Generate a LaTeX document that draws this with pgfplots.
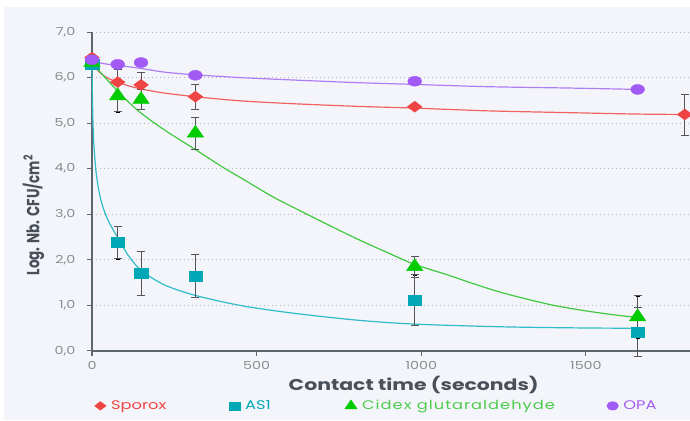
\documentclass[border=0pt]{standalone}
\usepackage{fontspec}
\setmainfont{Poppins}[FakeStretch=1.3]
\newfontfamily\plainpop{Poppins}
\usepackage{pgfplots}
\usepackage{pgfplotstable}
\pgfplotsset{compat=1.18}
\definecolor{bgc}{HTML}{F4F5FA}
\definecolor{sporox}{HTML}{EF4444}
\definecolor{sporoxl}{HTML}{F06262}
\definecolor{asone}{HTML}{00A8B5}
\definecolor{asonel}{HTML}{30BCC8}
\definecolor{cidex}{HTML}{00CC00}
\definecolor{cidexl}{HTML}{40C840}
\definecolor{cidext}{HTML}{4CCB4C}
\definecolor{opa}{HTML}{A25AF5}
\definecolor{opal}{HTML}{AC7EF2}
\definecolor{axisgray}{HTML}{5E6670}
\definecolor{tickgray}{HTML}{8A8C90}
\definecolor{labgray}{HTML}{4A505A}
\definecolor{errgray}{HTML}{555555}
\definecolor{gridgray}{HTML}{B4B6BA}

\pgfplotstableread{
t y e
0 6.44 0
78 5.90 0.28
149 5.84 0.27
314 5.58 0.27
980 5.36 0
1800 5.19 0.45
}\sporoxdata
\pgfplotstableread{
t y e
0 6.30 0
78 2.38 0.36
149 1.70 0.48
314 1.65 0.47
980 1.12 0.55
1657 0.42 0.54
}\asonedata
\pgfplotstableread{
t y e
0 6.33 0
78 5.60 0.35
149 5.52 0.22
314 4.78 0.35
980 1.85 0.23
1657 0.75 0.46
}\cidexdata
\pgfplotstableread{
t y
0 6.39
78 6.29
149 6.33
314 6.05
980 5.92
1657 5.74
}\opadata

\pgfplotsset{
  errb/.style={only marks, mark=none, forget plot,
    error bars/.cd, y dir=both, y explicit,
    error bar style={draw=errgray, line width=0.9pt}},
  capb/.style={only marks, forget plot, mark=-, mark size=4pt, color=errgray, mark options={line width=0.9pt}},
}

\begin{document}
\begin{tikzpicture}
\fill[white] (0,0) rectangle (690pt,420pt);
\fill[bgc] (4pt,0) rectangle (690pt,413pt);
\useasboundingbox (0,0) rectangle (690pt,420pt);
\begin{axis}[
  at={(92pt,69pt)}, anchor=south west,
  scale only axis, width=598pt, height=319pt,
  xmin=0, xmax=1816, ymin=0, ymax=7,
  clip=false,
  axis x line*=bottom, axis y line*=left,
  axis line style={-, color=axisgray, line width=1.1pt},
  xtick={0,500,1000,1500}, ytick={0,1,2,3,4,5,6,7},
  tick align=outside, major tick length=5pt,
  tick style={color=axisgray, line width=1pt},
  ymajorgrids, grid style={color=gridgray, line width=0.9pt, dash pattern=on 1.2pt off 2.8pt},
  /pgf/number format/assume math mode=true,
  ticklabel style={font=\fontsize{11}{13}\selectfont, text=tickgray},
  xticklabel style={yshift=-2pt, /pgf/number format/1000 sep={}},
  yticklabel style={xshift=-8pt, /pgf/number format/.cd, fixed, fixed zerofill, precision=1, use comma},
  xlabel={Contact time (seconds)},
  xlabel style={font=\fontsize{15.7}{17}\selectfont\bfseries, text=labgray, at={(axis description cs:0.538,-0.105)}, anchor=center},
  ylabel={\scalebox{1}[1.3]{\plainpop\bfseries Log. Nb. CFU/cm\textsuperscript{2}}},
  ylabel style={font=\fontsize{13.5}{16}\selectfont, text=labgray, at={(axis description cs:-0.098,0.426)}, anchor=center},
  legend style={at={(axis description cs:-0.001,-0.172)}, anchor=west, draw=none, fill=none,
    font=\fontsize{12.5}{15}\selectfont, legend columns=4,
    /tikz/every odd column/.append style={column sep=3pt},
    /tikz/every even column/.append style={column sep=50pt}},
]
% fitted curves
\addplot[sporoxl, line width=1.2pt, smooth, forget plot] coordinates {
(0,6.42)(5,6.30)(15,6.18)(30,6.07)(50,5.98)(78,5.90)(110,5.82)(149,5.75)(220,5.66)(314,5.58)(450,5.49)(600,5.43)(800,5.37)(980,5.33)(1200,5.27)(1450,5.23)(1650,5.20)(1800,5.19)};
\addplot[asonel, line width=1.2pt, smooth, forget plot] coordinates {
(0,6.30)(1,5.7)(3,5.0)(6,4.5)(12,3.95)(20,3.55)(29,3.26)(40,3.02)(52,2.82)(78,2.49)(110,2.10)(149,1.77)(220,1.45)(314,1.22)(450,1.00)(600,0.84)(800,0.68)(980,0.59)(1250,0.53)(1500,0.505)(1657,0.50)};
\addplot[cidexl, line width=1.2pt, smooth, forget plot] coordinates {
(0,6.33)(20,6.16)(50,5.92)(78,5.70)(110,5.47)(149,5.22)(220,4.85)(314,4.42)(400,4.02)(459,3.77)(550,3.38)(634,3.07)(700,2.83)(808,2.45)(900,2.15)(980,1.90)(1080,1.67)(1157,1.48)(1250,1.27)(1390,1.02)(1500,0.88)(1600,0.78)(1657,0.74)};
\addplot[opal, line width=1.2pt, smooth, forget plot] coordinates {
(0,6.39)(20,6.33)(50,6.29)(78,6.27)(149,6.20)(220,6.12)(314,6.06)(450,6.00)(600,5.95)(800,5.89)(980,5.85)(1200,5.80)(1450,5.77)(1657,5.74)};
% error bars (behind markers)
\addplot[errb] table[x=t, y=y, y error=e] {\sporoxdata};
\addplot[errb] table[x=t, y=y, y error=e] {\asonedata};
\addplot[errb] table[x=t, y=y, y error=e] {\cidexdata};
\addplot[capb] table[x=t, y expr=\thisrow{y}+\thisrow{e}] {\sporoxdata};
\addplot[capb] table[x=t, y expr=\thisrow{y}-\thisrow{e}] {\sporoxdata};
\addplot[capb] table[x=t, y expr=\thisrow{y}+\thisrow{e}] {\asonedata};
\addplot[capb] table[x=t, y expr=\thisrow{y}-\thisrow{e}] {\asonedata};
\addplot[capb] table[x=t, y expr=\thisrow{y}+\thisrow{e}] {\cidexdata};
\addplot[capb] table[x=t, y expr=\thisrow{y}-\thisrow{e}] {\cidexdata};
% data points
\addplot[only marks, mark=diamond*, mark size=5.5pt, color=sporox, mark options={xscale=1.8, draw=none, fill=sporox},
  legend image post style={mark size=4.3pt}]
  table[x=t, y=y] {\sporoxdata};
\addlegendentry{\textcolor{sporox}{Sporox}\rule{11pt}{0pt}}
\addplot[only marks, mark=square*, mark size=5pt, color=asone, mark options={xscale=1.34, draw=none, fill=asone},
  legend image post style={mark size=4pt}]
  table[x=t, y=y] {\asonedata};
\addlegendentry{\textcolor{asone}{AS1}\rule{22pt}{0pt}}
\addplot[only marks, mark=triangle*, mark size=8pt, color=cidex, mark options={xscale=1.19, draw=none, fill=cidex},
  legend image post style={mark size=6pt}]
  table[x=t, y=y] {\cidexdata};
\addlegendentry{\textcolor{cidext}{\addfontfeatures{LetterSpace=8}Cidex glutaraldehyde}}
\addplot[only marks, mark=*, mark size=5pt, color=opa, mark options={xscale=1.38, draw=none, fill=opa},
  legend image post style={mark size=4.2pt}]
  table[x=t, y=y] {\opadata};
\addlegendentry{\textcolor{opa}{OPA}}
\end{axis}
\end{tikzpicture}
\end{document}
